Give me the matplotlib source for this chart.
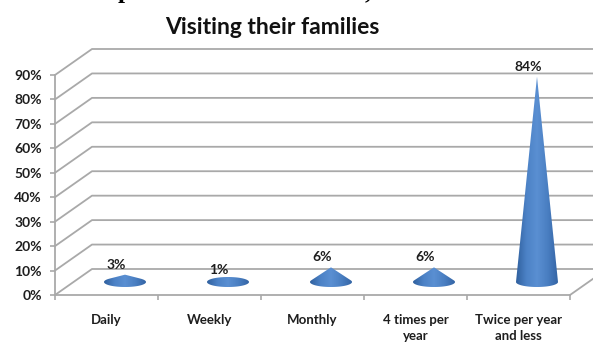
import matplotlib
matplotlib.use('Agg')
from matplotlib import pyplot as plt
from matplotlib.colors import LinearSegmentedColormap
from matplotlib.patches import Polygon
from matplotlib.ticker import PercentFormatter
from matplotlib.transforms import offset_copy
import numpy as np

categories = ['Daily', 'Weekly', 'Monthly', '4 times per\nyear', 'Twice per year\nand less']
percent = [3, 1, 6, 6, 84]
y_ticks = np.arange(0, 100, 10)
title = 'Visiting their families'

W, H = 593, 345
grid = '#a9a9a9'
text_col = '#1e1e1e'
cone_cmap = LinearSegmentedColormap.from_list(
    'cone', ['#30609e', '#4c82c6', '#5a8fd2', '#4a7fc2', '#3465a5'])

plt.rcParams['font.family'] = ['Lato', 'DejaVu Sans']
fig = plt.figure(figsize=(W / 100, H / 100), dpi=100)
ax = fig.add_axes([55 / W, 50 / H, 515 / W, 220 / H])
ax.set_facecolor('none')
n = len(categories)
ax.set_xlim(-0.5, n - 0.5)
ax.set_ylim(0, 90)

# size of one pixel in data units, for the 3d depth
bb = ax.get_window_extent()
px_x = n / bb.width
px_y = 90 / bb.height
dx, dy = 37 * px_x, 26 * px_y

# back wall and left wall grid
for v in y_ticks:
    ax.plot([-0.5, -0.5 + dx, n - 0.5 + dx], [v, v + dy, v + dy],
            color=grid, lw=1.3, clip_on=False, zorder=1)
ax.plot([n - 0.5, n - 0.5 + dx], [0, dy], color=grid, lw=1.3, clip_on=False, zorder=1)


def hull(points):  # convex hull, monotone chain
    pts = sorted(map(tuple, points))
    def cross(o, a, b):
        return (a[0] - o[0]) * (b[1] - o[1]) - (a[1] - o[1]) * (b[0] - o[0])
    lower, upper = [], []
    for p in pts:
        while len(lower) >= 2 and cross(lower[-2], lower[-1], p) <= 0:
            lower.pop()
        lower.append(p)
    for p in reversed(pts):
        while len(upper) >= 2 and cross(upper[-2], upper[-1], p) <= 0:
            upper.pop()
        upper.append(p)
    return lower[:-1] + upper[:-1]


# cones
rx, ry = 21 * px_x, 5 * px_y
t = np.linspace(0, 2 * np.pi, 120)
gradient = np.linspace(0, 1, 256).reshape(1, -1)
for i, v in enumerate(percent):
    cx = i + dx / 2
    base = dy / 2
    top = v + base
    pts = np.column_stack([cx + rx * np.cos(t), base + ry * np.sin(t)])
    pts = np.vstack([pts, [cx, top]])
    poly = Polygon(hull(pts), closed=True, transform=ax.transData,
                   facecolor='none', edgecolor='none', zorder=3)
    ax.add_patch(poly)
    im = ax.imshow(gradient, extent=[cx - rx, cx + rx, base - ry, max(top, base + ry)],
                   cmap=cone_cmap, aspect='auto', origin='lower', zorder=3,
                   interpolation='bilinear')
    im.set_clip_path(poly)
    ax.annotate(f'{v}%', xy=(cx, top), xytext=(-9, 10), textcoords='offset pixels',
                ha='center', va='center', fontsize=10, fontweight='bold', color=text_col,
                zorder=4)

ax.set_xlim(-0.5, n - 0.5)
ax.set_ylim(0, 90)

# axes
for s in ['top', 'right']:
    ax.spines[s].set_visible(False)
for s in ['left', 'bottom']:
    ax.spines[s].set_color(grid)
    ax.spines[s].set_linewidth(1.3)
ax.set_yticks(y_ticks)
ax.yaxis.set_major_formatter(PercentFormatter(decimals=0))
ax.tick_params(axis='y', length=3.5, color=grid, width=1.2, pad=6,
               labelsize=10, labelcolor=text_col)
for lab in ax.get_yticklabels():
    lab.set_fontweight('bold')

# category labels, one text per line so each line is centred
ax.set_xticks([])
ax.set_xticks(np.arange(-0.5, n, 1), minor=True)
ax.tick_params(axis='x', which='minor', length=3.5, color=grid, width=1.2)
for i, cat in enumerate(categories):
    for k, line in enumerate(cat.split('\n')):
        tr = offset_copy(ax.get_xaxis_transform(), fig=fig, y=-25 - 16 * k, units='dots')
        ax.text(i, 0, line, transform=tr, ha='center', va='center',
                fontsize=9.5, fontweight='bold', color=text_col)

fig.text(272 / W, 1 - 27 / H, title, ha='center', va='center',
         fontsize=16.5, fontweight='bold', color='#111111')

# cut-off caption line above the chart
fig.text(125 / W, 1 + 2 / H, 'p', ha='center', va='baseline',
         family=['Liberation Serif'], fontsize=18, fontweight='bold')
fig.text(368 / W, 1 + 2 / H, ',', ha='center', va='baseline',
         family=['Liberation Serif'], fontsize=18, fontweight='bold')

plt.savefig('out.png', dpi=100)
plt.close()
